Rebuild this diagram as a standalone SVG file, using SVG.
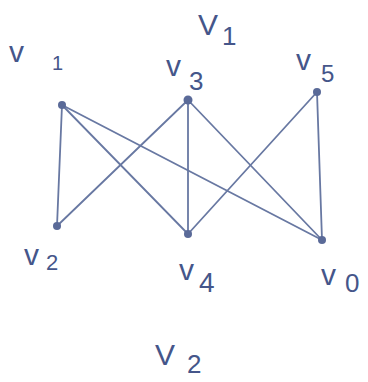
<svg xmlns="http://www.w3.org/2000/svg" width="368" height="382" viewBox="0 0 368 382">
<style>
.e{stroke:#6878a2;stroke-width:1.8;fill:none;stroke-linecap:round}
.n{fill:#5a6a98}
.t{font-family:"Liberation Sans",Arial,sans-serif;fill:#45568a;font-size:30px}
</style>
<rect width="368" height="382" fill="#ffffff"/>
<g id="connectors">
<line class="e" x1="62" y1="105" x2="57" y2="226"/>
<line class="e" x1="62" y1="105" x2="188" y2="234"/>
<line class="e" x1="62" y1="105" x2="322" y2="240"/>
<line class="e" x1="188" y1="100" x2="57" y2="226"/>
<line class="e" x1="188" y1="100" x2="188" y2="234"/>
<line class="e" x1="188" y1="100" x2="322" y2="240"/>
<line class="e" x1="317" y1="92" x2="188" y2="234"/>
<line class="e" x1="317" y1="92" x2="322" y2="240"/>
</g>
<g id="v1"><circle class="n" cx="62" cy="105" r="4"/><text class="t" x="9" y="62">v<tspan x="52" y="70" font-size="20">1</tspan></text></g>
<g id="v3"><circle class="n" cx="188" cy="100" r="4.5"/><text class="t" x="166" y="76">v<tspan x="189" y="90" font-size="26">3</tspan></text></g>
<g id="v5"><circle class="n" cx="317" cy="92" r="4"/><text class="t" x="296" y="70">v<tspan x="321" y="82" font-size="24">5</tspan></text></g>
<g id="v2"><circle class="n" cx="57" cy="226" r="4"/><text class="t" x="24" y="265">v<tspan x="46" y="270" font-size="22">2</tspan></text></g>
<g id="v4"><circle class="n" cx="188" cy="234" r="4"/><text class="t" x="179" y="280">v<tspan x="199" y="292" font-size="28">4</tspan></text></g>
<g id="v0"><circle class="n" cx="322" cy="240" r="4"/><text class="t" x="321" y="285">v<tspan x="345" y="292" font-size="26">0</tspan></text></g>
<g id="V1set"><text class="t" x="198" y="35" font-size="28">V<tspan x="222" y="45" font-size="26">1</tspan></text></g>
<g id="V2set"><text class="t" x="155" y="365" font-size="40">V<tspan x="187" y="373" font-size="26">2</tspan></text></g>
</svg>
